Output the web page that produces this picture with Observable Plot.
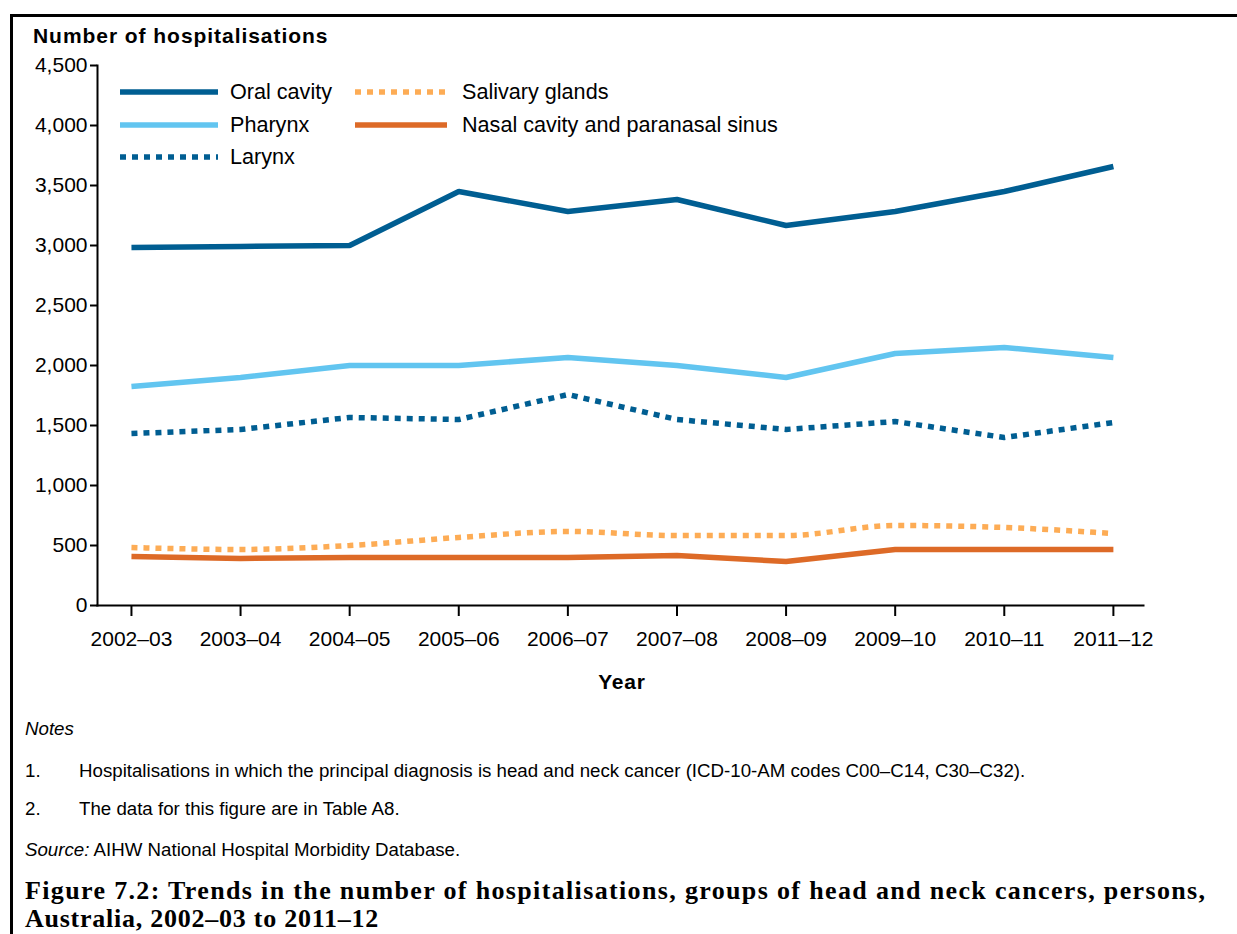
<!DOCTYPE html>
<html>
<head>
<meta charset="utf-8">
<script src="https://cdn.jsdelivr.net/npm/d3@7"></script>
<script src="https://cdn.jsdelivr.net/npm/@observablehq/plot@0.6"></script>
<style>
  html, body { margin: 0; padding: 0; background: #fff; }
  #wrap { position: relative; width: 1237px; height: 934px; overflow: hidden; font-family: 'Liberation Sans', Arial, sans-serif; color: #000; }
  #chart { position: absolute; left: 0; top: 0; }
  .frame { position: absolute; left: 10px; top: 14px; width: 1400px; height: 1000px; border-left: 3px solid #000; border-top: 3px solid #000; pointer-events: none; }
  .abs { position: absolute; white-space: nowrap; }
  .ylab { left: 33px; top: 24px; font-size: 21px; line-height: 24px; font-weight: bold; letter-spacing: 0.95px; }
  .xlab { left: 622px; top: 670px; font-size: 21px; line-height: 24px; font-weight: bold; letter-spacing: 0.8px; transform: translateX(-50%); }
  .leg { font-size: 21.6px; line-height: 24px; }
  .sw { position: absolute; }
  .note { font-size: 18.7px; line-height: 22px; left: 25px; }
  .num { display: inline-block; width: 54px; }
  .cap { left: 25px; top: 877px; font-family: 'Liberation Serif', 'Times New Roman', serif; font-weight: bold; font-size: 26px; line-height: 28px; letter-spacing: 1.35px; }
  .cap2 { letter-spacing: 0.75px; }
</style>
</head>
<body>
<div id="wrap">
  <div id="chart"></div>
  <div class="abs ylab">Number of hospitalisations</div>
  <div id="legend"></div>
  <div class="abs xlab">Year</div>
  <div class="abs note" style="top:718px;font-style:italic;">Notes</div>
  <div class="abs note" style="top:760px;"><span class="num">1.</span>Hospitalisations in which the principal diagnosis is head and neck cancer (ICD-10-AM codes C00–C14, C30–C32).</div>
  <div class="abs note" style="top:798px;"><span class="num">2.</span>The data for this figure are in Table A8.</div>
  <div class="abs note" style="top:839px;"><i>Source:</i> AIHW National Hospital Morbidity Database.</div>
  <div class="abs cap">Figure 7.2: Trends in the number of hospitalisations, groups of head and neck cancers, persons,<br><span class="cap2">Australia, 2002–03 to 2011–12</span></div>
  <div class="frame"></div>
</div>
<script>
// ---- Data ----
const years = ["2002–03", "2003–04", "2004–05", "2005–06", "2006–07", "2007–08", "2008–09", "2009–10", "2010–11", "2011–12"];
const oralCavity     = [2983, 2992, 3000, 3450, 3283, 3383, 3167, 3283, 3450, 3658];
const pharynx        = [1825, 1900, 2000, 2000, 2067, 2000, 1900, 2100, 2150, 2067];
const larynx         = [1433, 1467, 1567, 1550, 1758, 1550, 1467, 1533, 1400, 1525];
const salivaryGlands = [483, 467, 500, 567, 617, 583, 583, 667, 650, 600];
const nasalCavity    = [408, 392, 400, 400, 400, 417, 367, 467, 467, 467];
const yTicks = [0, 500, 1000, 1500, 2000, 2500, 3000, 3500, 4000, 4500];

const seriesNames = ["Oral cavity", "Pharynx", "Larynx", "Salivary glands", "Nasal cavity and paranasal sinus"];
const seriesValues = [oralCavity, pharynx, larynx, salivaryGlands, nasalCavity];
const seriesColors = ["#005E92", "#62C5F0", "#005E92", "#FDAC55", "#DD6A27"];
const seriesDash = [null, null, "6,6", "6,6", null];
const seriesCurve = ["linear", "linear", "linear", "monotone-x", "linear"];

const series = seriesNames.map((name, i) => ({
  name,
  color: seriesColors[i],
  dash: seriesDash[i],
  curve: seriesCurve[i],
  data: years.map((year, j) => ({ year, value: seriesValues[i][j] }))
}));

const lineMarks = series.map(s => Plot.line(s.data, {
  x: "year",
  y: "value",
  stroke: s.color,
  strokeWidth: 5.5,
  strokeDasharray: s.dash,
  strokeLinecap: "butt",
  strokeLinejoin: "miter",
  curve: s.curve
}));

const chart = Plot.plot({
  width: 1237,
  height: 700,
  marginLeft: 97,
  marginRight: 94,
  marginTop: 65,
  marginBottom: 95,
  x: { type: "point", domain: years, padding: 0.2936, align: 0.53, round: false },
  y: { domain: [0, 4500] },
  style: { fontFamily: "'Liberation Sans', Arial, sans-serif", fontSize: "21px", color: "#000", background: "transparent" },
  marks: [
    ...lineMarks,
    Plot.axisY({ ticks: yTicks, tickFormat: d3.format(","), tickSize: 7, tickPadding: 3, label: null, strokeWidth: 2, fill: "#000" }),
    Plot.axisX({ tickSize: 11, tickPadding: 15, label: null, strokeWidth: 2, fill: "#000" }),
    Plot.frame({ anchor: "left", strokeWidth: 2 }),
    Plot.frame({ anchor: "bottom", strokeWidth: 2 })
  ]
});
document.getElementById("chart").appendChild(chart);

// ---- Legend (HTML overlay) ----
const legendLayout = [
  { sx: 120, sw: 98, tx: 230, cy: 92 },
  { sx: 120, sw: 98, tx: 230, cy: 125 },
  { sx: 120, sw: 98, tx: 230, cy: 157 },
  { sx: 355, sw: 92, tx: 462, cy: 92 },
  { sx: 355, sw: 92, tx: 462, cy: 125 }
];
const legend = document.getElementById("legend");
series.forEach((s, i) => {
  const L = legendLayout[i];
  const svgNS = "http://www.w3.org/2000/svg";
  const svg = document.createElementNS(svgNS, "svg");
  svg.setAttribute("width", L.sw);
  svg.setAttribute("height", 10);
  svg.setAttribute("class", "sw");
  svg.style.left = L.sx + "px";
  svg.style.top = (L.cy - 5) + "px";
  const ln = document.createElementNS(svgNS, "line");
  ln.setAttribute("x1", 0); ln.setAttribute("x2", L.sw);
  ln.setAttribute("y1", 5); ln.setAttribute("y2", 5);
  ln.setAttribute("stroke", s.color);
  ln.setAttribute("stroke-width", 5.5);
  if (s.dash) ln.setAttribute("stroke-dasharray", s.dash);
  svg.appendChild(ln);
  legend.appendChild(svg);
  const t = document.createElement("div");
  t.className = "abs leg";
  t.style.left = L.tx + "px";
  t.style.top = (L.cy - 12) + "px";
  t.textContent = s.name;
  legend.appendChild(t);
});
</script>
</body>
</html>
